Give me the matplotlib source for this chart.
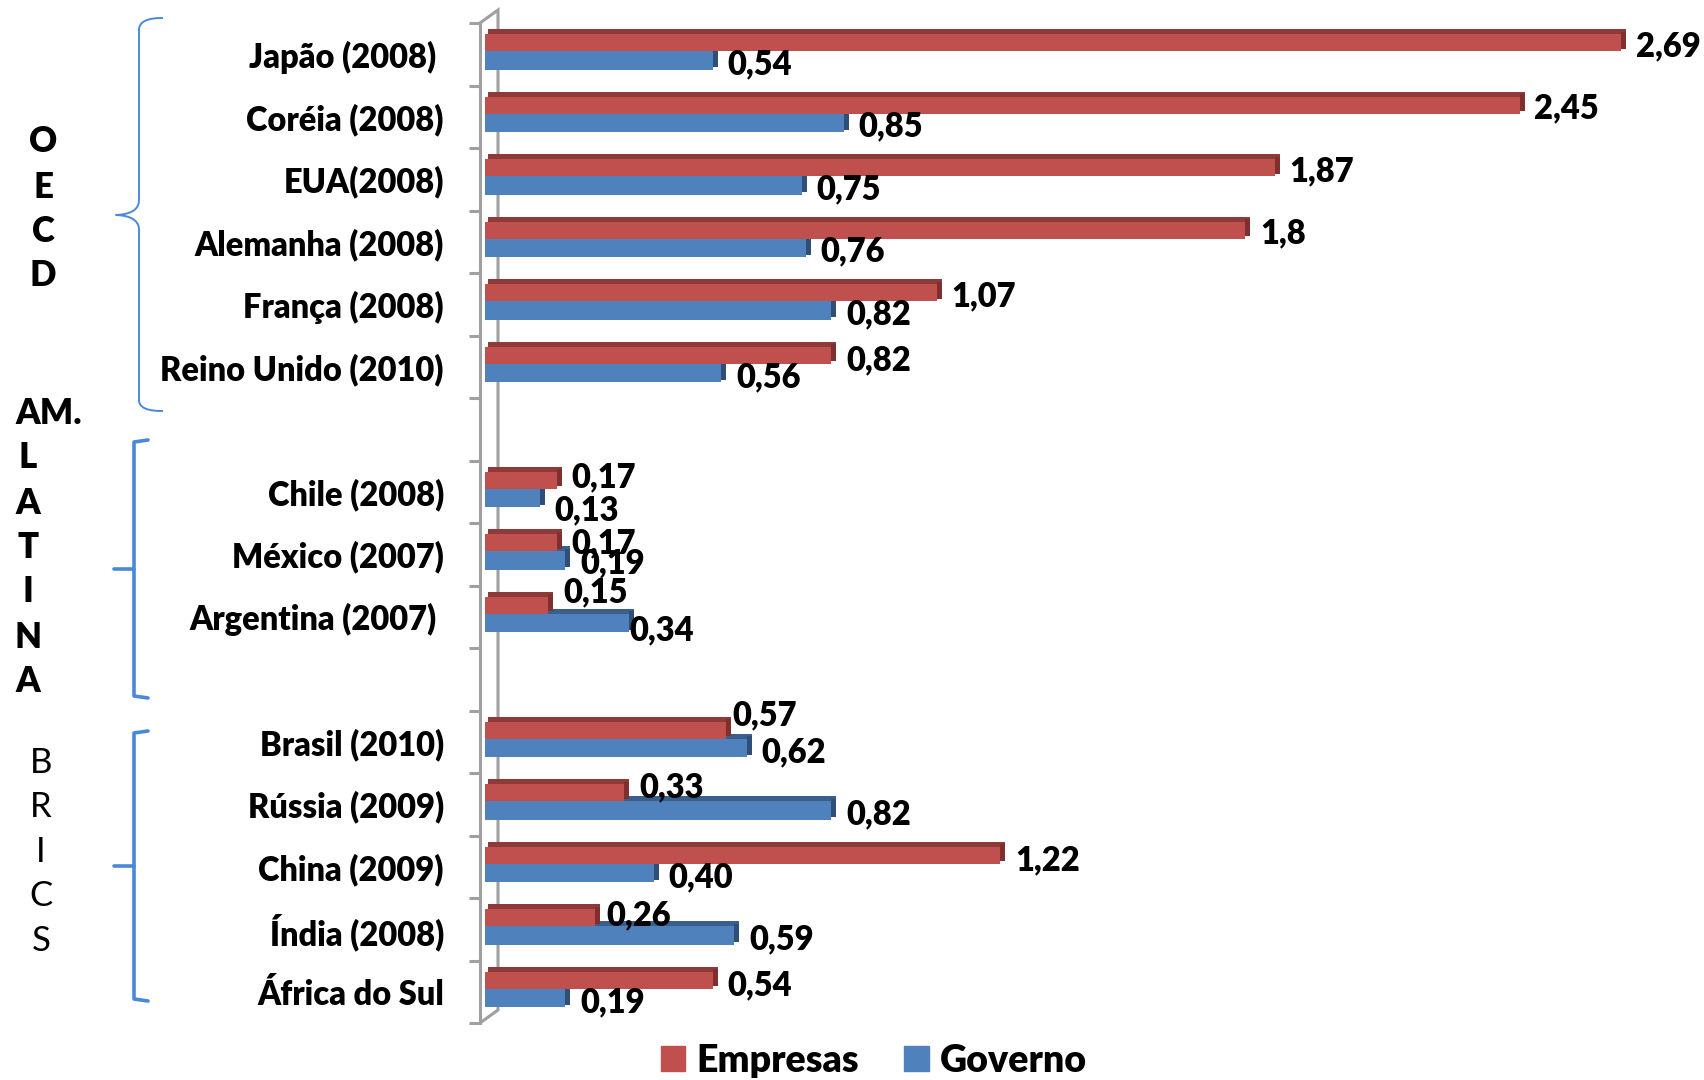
import matplotlib
matplotlib.use("Agg")
import matplotlib.pyplot as plt
from matplotlib.patches import Patch
import numpy as np

# ---------------- data ----------------
categories = ["Japão (2008) ", "Coréia (2008)", "EUA(2008)", "Alemanha (2008)",
              "França (2008)", "Reino Unido (2010)", "",
              "Chile (2008)", "México (2007)", "Argentina (2007) ", "",
              "Brasil (2010)", "Rússia (2009)", "China (2009)", "Índia (2008)",
              "África do Sul"]
empresas = [2.69, 2.45, 1.87, 1.80, 1.07, 0.82, None,
            0.17, 0.17, 0.15, None,
            0.57, 0.33, 1.22, 0.26, 0.54]
governo = [0.54, 0.85, 0.75, 0.76, 0.82, 0.56, None,
           0.13, 0.19, 0.34, None,
           0.62, 0.82, 0.40, 0.59, 0.19]
empresas_lbl = ["2,69", "2,45", "1,87", "1,8", "1,07", "0,82", "",
                "0,17", "0,17", "0,15", "",
                "0,57", "0,33", "1,22", "0,26", "0,54"]
governo_lbl = ["0,54", "0,85", "0,75", "0,76", "0,82", "0,56", "",
               "0,13", "0,19", "0,34", "",
               "0,62", "0,82", "0,40", "0,59", "0,19"]
series_names = ["Empresas", "Governo"]

# label placement (manual offsets as in the original, slot units / points)
emp_dy = [-0.13, -0.13, -0.13, -0.13, -0.12, -0.11, 0,
          -0.23, -0.17, -0.39, 0,
          -0.42, -0.27, -0.11, -0.22, -0.11]
gov_dy = [0.16, 0.15, 0.16, 0.15, 0.16, 0.17, 0,
          0.29, 0.14, 0.22, 0,
          0.17, 0.16, 0.17, 0.16, 0.17]
emp_dx = [7, 7, 7, 7, 7, 7, 0, 7, 7, 7, 0, 1, 7, 7, 5, 7]
gov_dx = [7, 7, 7, 7, 7, 7, 0, 7, 7, -3, 0, 7, 7, 7, 7, 7]

FONT = ["Lato", "DejaVu Sans"]
plt.rcParams["font.family"] = FONT
FW = "heavy"
FS = 23.5

RED = "#C0504D"; RED_TOP = "#8E3A38"; RED_CAP = "#7F2F2D"
BLUE = "#4F81BD"; BLUE_TOP = "#3A5F8C"; BLUE_CAP = "#2F4F78"
BR = "#4A88DA"
GRAY = "#A0A0A0"

W, H = 1704, 1080
fig = plt.figure(figsize=(W / 100, H / 100), dpi=100)

x_front = 480  # pixel of front axis line
x_zero = 485   # pixel where value 0 is
px_per_unit = (1621 - x_zero) / 2.69
xmin = (x_front - x_zero) / px_per_unit
xmax = (W - x_zero) / px_per_unit
ax_top, ax_bot = 23, 1023
ax = fig.add_axes([x_front / W, 1 - ax_bot / H, 1 - x_front / W, (ax_bot - ax_top) / H])
n = len(categories)
ax.set_xlim(xmin, xmax)
ax.set_ylim(n - 0.5, -0.5)

depth = 5 / px_per_unit
top_h = 0.08

for i in range(n):
    e, g = empresas[i], governo[i]
    if e is None:
        continue
    # blue (governo)
    ax.barh(i - 0.05 - top_h / 2, g + depth * 0.5, left=depth * 0.5, height=top_h, color=BLUE_TOP,
            zorder=2, linewidth=0)
    ax.barh(i + 0.10, g, height=0.30, color=BLUE, zorder=3, linewidth=0)
    ax.barh(i + 0.10 - top_h / 2, depth, left=g, height=0.30, color=BLUE_CAP, zorder=3, linewidth=0)
    # red (empresas)
    ax.barh(i - 0.32 - top_h / 2, e + depth * 0.5, left=depth * 0.5, height=top_h, color=RED_TOP,
            zorder=4, linewidth=0)
    ax.barh(i - 0.185, e, height=0.27, color=RED, zorder=5, linewidth=0)
    ax.barh(i - 0.185 - top_h / 2, depth, left=e, height=0.27, color=RED_CAP, zorder=5, linewidth=0)
    # labels
    ax.annotate(empresas_lbl[i], (e + depth, i + emp_dy[i]), xytext=(emp_dx[i], 0),
                textcoords="offset points", ha="left", va="center", fontsize=FS,
                fontweight=FW, zorder=6, annotation_clip=False)
    ax.annotate(governo_lbl[i], (g + depth, i + gov_dy[i]), xytext=(gov_dx[i], 0),
                textcoords="offset points", ha="left", va="center", fontsize=FS,
                fontweight=FW, zorder=6, annotation_clip=False)

# axis styling (3D wall look)
for s in ["top", "right", "bottom"]:
    ax.spines[s].set_visible(False)
ax.spines["left"].set_color(GRAY)
ax.spines["left"].set_linewidth(2.2)
ax.set_yticks(np.arange(-0.5, n, 1.0))
ax.set_yticklabels([])
ax.tick_params(axis="y", which="major", length=8, width=2.2, color=GRAY, direction="out")
ax.set_yticks(np.arange(n), minor=True)
ax.set_yticklabels(categories, minor=True, fontsize=FS, fontweight=FW)
ax.tick_params(axis="y", which="minor", length=0, pad=26)
ax.set_xticks([])
back = 498
bx = (back - x_zero) / px_per_unit
dy = 13 / ((ax_bot - ax_top) / n)
ax.plot([xmin, bx, bx, xmin], [-0.5, -0.5 - dy, n - 0.5 - dy, n - 0.5], color=GRAY,
        lw=2.2, clip_on=False, zorder=1, solid_joinstyle="miter")

# overlay for group annotations
ov = fig.add_axes([0, 0, 1, 1], zorder=-1)
ov.set_xlim(0, W); ov.set_ylim(H, 0); ov.axis("off")

def letters(txt, x, ys, weight=FW, size=25):
    for ch, y in zip(txt, ys):
        ov.text(x, y, ch, ha="center", va="center", fontsize=size, fontweight=weight)

letters("OECD", 43, [141, 187, 231, 276])
ov.text(15, 413, "AM.", ha="left", va="center", fontsize=25, fontweight=FW)
letters("LATINA", 28, [457, 503, 548, 592, 638, 682])
letters("BRICS", 41, [763, 807, 852, 896, 941], weight="normal")

# OECD curly brace
t = np.linspace(0, 1, 20)
def qb(p0, p1, p2):
    p0, p1, p2 = map(np.array, (p0, p1, p2))
    return ((1 - t)[:, None] ** 2) * p0 + (2 * (1 - t) * t)[:, None] * p1 + (t ** 2)[:, None] * p2
pts = np.vstack([
    qb((162, 18), (139, 18), (139, 30)),
    qb((139, 200), (139, 214), (116, 215)),
    qb((116, 215), (139, 216), (139, 230)),
    qb((139, 400), (139, 411), (162, 411)),
])
ov.plot(pts[:, 0], pts[:, 1], color=BR, lw=1.4)

def bracket(y0, y1, ym):
    ov.plot([148, 134, 134, 148], [y0, y0 + 2, y1 - 2, y1], color=BR, lw=2.6,
            solid_joinstyle="round", solid_capstyle="round")
    ov.plot([114, 134], [ym, ym], color=BR, lw=2.6, solid_capstyle="round")

bracket(440, 698, 569)
bracket(731, 1001, 866)

# legend
handles = [Patch(color=RED, label=series_names[0]), Patch(color=BLUE, label=series_names[1])]
fig.legend(handles=handles, loc="center", bbox_to_anchor=(874 / W, 1 - 1061 / H), ncol=2,
           frameon=False, prop={"size": 27, "weight": FW}, handlelength=0.65,
           handleheight=0.65, handletextpad=0.3, columnspacing=1.2)

fig.savefig("out.png", dpi=100)
